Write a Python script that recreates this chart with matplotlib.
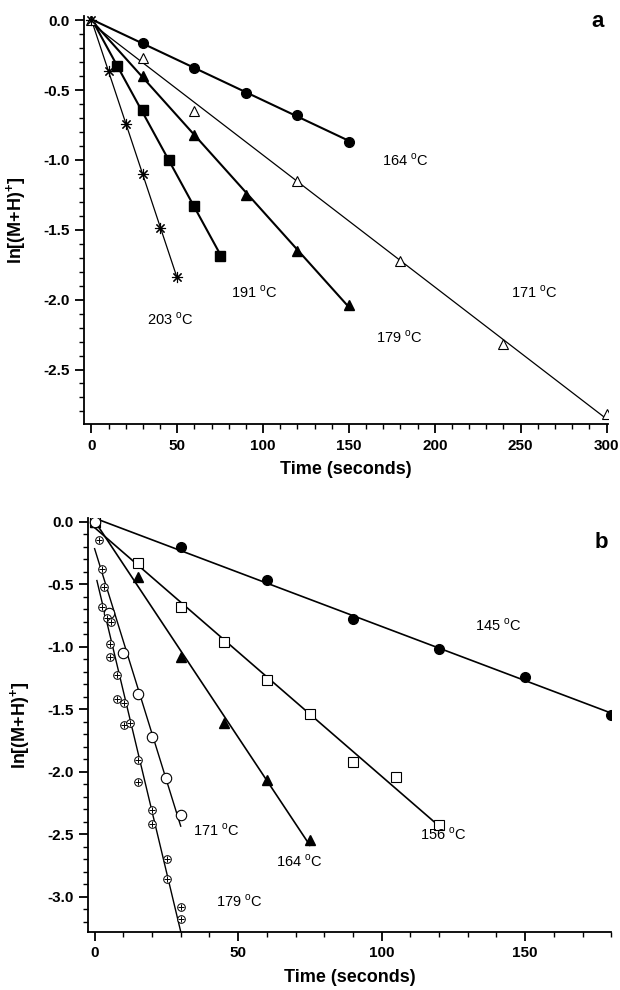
import numpy as np
import matplotlib
matplotlib.use("Agg")
import matplotlib.pyplot as plt
from matplotlib.ticker import MultipleLocator

plt.rcParams["font.family"] = ["Liberation Sans", "DejaVu Sans"]
plt.rcParams["mathtext.fontset"] = "custom"
plt.rcParams["mathtext.rm"] = "Liberation Sans"
plt.rcParams["mathtext.bf"] = "Liberation Sans:bold"
plt.rcParams["axes.unicode_minus"] = False

# ---- panel a data (time in s, ln[(M+H)+]) ----
a_t164 = [0, 30, 60, 90, 120, 150]
a_y164 = [0, -0.16, -0.34, -0.52, -0.68, -0.87]
a_t171 = [0, 30, 60, 120, 180, 240, 300]
a_y171 = [0, -0.27, -0.65, -1.15, -1.72, -2.32, -2.82]
a_t179 = [0, 30, 60, 90, 120, 150]
a_y179 = [0, -0.40, -0.82, -1.25, -1.65, -2.04]
a_t191 = [0, 15, 30, 45, 60, 75]
a_y191 = [0, -0.33, -0.64, -1.00, -1.33, -1.69]
a_t203 = [0, 10, 20, 30, 40, 50]
a_y203 = [0, -0.36, -0.74, -1.10, -1.49, -1.84]

# ---- panel b data ----
b_t145 = [0, 30, 60, 90, 120, 150, 180]
b_y145 = [0, -0.20, -0.47, -0.78, -1.02, -1.24, -1.55]
b_t156 = [0, 15, 30, 45, 60, 75, 90, 105, 120]
b_y156 = [0, -0.33, -0.68, -0.96, -1.27, -1.54, -1.92, -2.04, -2.43]
b_t164 = [0, 15, 30, 45, 60, 75]
b_y164 = [0, -0.44, -1.08, -1.61, -2.07, -2.55]
b_t171 = [0, 5, 10, 15, 20, 25, 30]
b_y171 = [0, -0.73, -1.05, -1.38, -1.72, -2.05, -2.35]
b_t179 = [1.5, 2.5, 3.2, 2.7, 4.2, 5.6, 5.3, 5.3, 7.9, 7.7, 10.1, 10.1, 12.5,
          15.2, 15.2, 20.1, 20.1, 25.1, 25.1, 30.1, 30.1]
b_y179 = [-0.15, -0.38, -0.52, -0.68, -0.77, -0.80, -0.98, -1.08, -1.23, -1.42,
          -1.45, -1.63, -1.61, -1.91, -2.08, -2.31, -2.42, -2.70, -2.86, -3.08, -3.18]


def fit_line(ax, t, y, lw, x0=None):
    t = np.asarray(t, float)
    k, b = np.polyfit(t, y, 1)
    xs = np.array([t.min() if x0 is None else x0, t.max()])
    ax.plot(xs, k * xs + b, color="black", lw=lw, zorder=2)


def style_axes(ax, xmaj, xmin, ymaj, ymin):
    for side in ("top", "right"):
        ax.spines[side].set_visible(False)
    for side in ("left", "bottom"):
        ax.spines[side].set_linewidth(1.3)
    ax.xaxis.set_major_locator(MultipleLocator(xmaj))
    ax.xaxis.set_minor_locator(MultipleLocator(xmin))
    ax.yaxis.set_major_locator(MultipleLocator(ymaj))
    ax.yaxis.set_minor_locator(MultipleLocator(ymin))
    ax.yaxis.set_major_formatter(plt.FormatStrFormatter("%.1f"))
    ax.tick_params(which="major", direction="out", length=6.5, width=1.3,
                   labelsize=11, pad=4)
    ax.tick_params(which="minor", direction="out", length=3.5, width=1.0)
    for lab in ax.get_xticklabels() + ax.get_yticklabels():
        lab.set_fontweight("bold")
    ax.set_xlabel("Time (seconds)", fontsize=13, fontweight="bold", labelpad=6)
    ax.set_ylabel(r"ln[(M+H)$^{\mathbf{+}}$]", fontsize=13, fontweight="bold",
                  labelpad=11)


fig = plt.figure(figsize=(6.2, 9.9), dpi=100)
ax1 = fig.add_axes([0.1355, 0.5717, 0.8455, 0.4121])
ax2 = fig.add_axes([0.1424, 0.0589, 0.8436, 0.4179])

# panel a (filled series share the origin point with the open triangles)
fit_line(ax1, a_t164, a_y164, 1.5)
fit_line(ax1, a_t171, a_y171, 0.9)
fit_line(ax1, a_t179, a_y179, 1.5)
fit_line(ax1, a_t191, a_y191, 1.5)
fit_line(ax1, a_t203, a_y203, 0.9)
ax1.plot(a_t164[1:], a_y164[1:], "o", ms=7, color="black", zorder=3)
ax1.plot(a_t179[1:], a_y179[1:], "^", ms=7, color="black", zorder=3)
ax1.plot(a_t191[1:], a_y191[1:], "s", ms=6.5, color="black", zorder=3)
ax1.plot(a_t171, a_y171, "^", ms=7, mfc="white", mec="black", mew=0.8, zorder=4)
ax1.plot(a_t203, a_y203, marker=(8, 2, 0), ls="none", ms=8, mec="black",
         mew=0.8, zorder=5)
ax1.set_xlim(-4.3, 301)
ax1.set_ylim(-2.89, 0.03)
style_axes(ax1, 50, 10, 0.5, 0.1)
ax1.text(183, -1.0, r"164 $^{\rm o}$C", fontsize=10.5, ha="center", va="center")
ax1.text(258, -1.95, r"171 $^{\rm o}$C", fontsize=10.5, ha="center", va="center")
ax1.text(179.5, -2.27, r"179 $^{\rm o}$C", fontsize=10.5, ha="center", va="center")
ax1.text(95, -1.95, r"191 $^{\rm o}$C", fontsize=10.5, ha="center", va="center")
ax1.text(46, -2.14, r"203 $^{\rm o}$C", fontsize=10.5, ha="center", va="center")
fig.text(0.9645, 0.9778, "a", fontsize=16, fontweight="bold",
         ha="center", va="center")

# panel b
fit_line(ax2, b_t145, b_y145, 1.2)
fit_line(ax2, b_t156, b_y156, 1.2)
fit_line(ax2, b_t164, b_y164, 1.2)
fit_line(ax2, b_t171, b_y171, 1.0)
fit_line(ax2, b_t179, b_y179, 1.0, x0=0.8)
ax2.plot(b_t145, b_y145, "o", ms=7, color="black", zorder=3)
ax2.plot(b_t156, b_y156, "s", ms=7.5, mfc="white", mec="black", mew=0.8, zorder=3)
ax2.plot(b_t164, b_y164, "^", ms=7.5, color="black", zorder=3)
ax2.plot(b_t171, b_y171, "o", ms=7.5, mfc="white", mec="black", mew=0.8, zorder=4)
ax2.plot(b_t179, b_y179, "o", ms=5.5, mfc="white", mec="black", mew=0.7, zorder=4)
ax2.plot(b_t179, b_y179, "+", ms=4, mec="black", mew=0.7, zorder=5)
ax2.set_xlim(-2.2, 180)
ax2.set_ylim(-3.28, 0.03)
style_axes(ax2, 50, 10, 0.5, 0.1)
ax2.text(140.6, -0.83, r"145 $^{\rm o}$C", fontsize=10.5, ha="center", va="center")
ax2.text(121.5, -2.5, r"156 $^{\rm o}$C", fontsize=10.5, ha="center", va="center")
ax2.text(71.5, -2.72, r"164 $^{\rm o}$C", fontsize=10.5, ha="center", va="center")
ax2.text(42.5, -2.47, r"171 $^{\rm o}$C", fontsize=10.5, ha="center", va="center")
ax2.text(50.6, -3.04, r"179 $^{\rm o}$C", fontsize=10.5, ha="center", va="center")
fig.text(0.9694, 0.4525, "b", fontsize=16, fontweight="bold",
         ha="center", va="center")

fig.savefig("out.png", dpi=100)
